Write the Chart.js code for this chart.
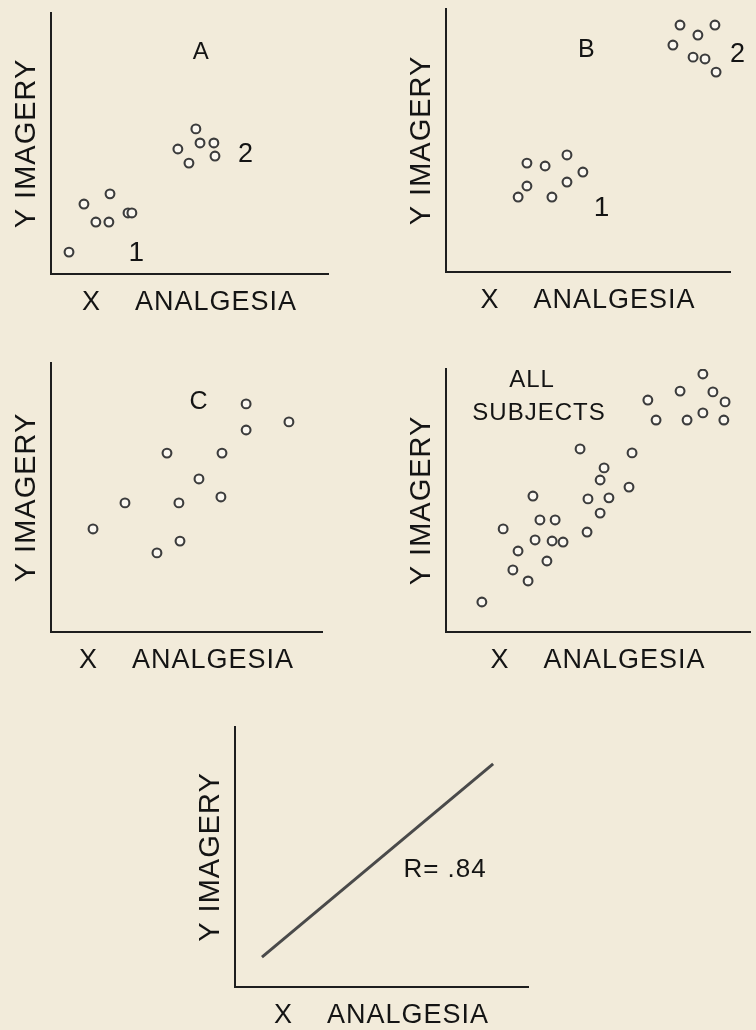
<!DOCTYPE html>
<html>
<head>
<meta charset="utf-8">
<script src="https://cdn.jsdelivr.net/npm/chart.js@4.4.1/dist/chart.umd.min.js"></script>
<style>
  html, body { margin: 0; padding: 0; background: #f2ebda; }
  body { width: 756px; height: 1030px; position: relative; overflow: hidden; }
  .panel { position: absolute; }
  canvas { display: block; }
</style>
</head>
<body>
<div class="panel" id="wrapA"><canvas id="chartA"></canvas></div>
<div class="panel" id="wrapB"><canvas id="chartB"></canvas></div>
<div class="panel" id="wrapC"><canvas id="chartC"></canvas></div>
<div class="panel" id="wrapD"><canvas id="chartD"></canvas></div>
<div class="panel" id="wrapE"><canvas id="chartE"></canvas></div>
<script>
// ---------- DATA (0–100 units on each panel's X = analgesia, Y = imagery) ----------
const xTitle = 'X    ANALGESIA';
const yTitle = 'Y IMAGERY';

// Panel A
const aGroup1X = [6.5, 11.9, 16.2, 20.9, 21.3, 27.8, 29.2];
const aGroup1Y = [8.4, 26.8, 19.9, 19.9, 30.7, 23.4, 23.4];
const aGroup2X = [45.8, 49.8, 52.3, 53.8, 58.8, 59.2];
const aGroup2Y = [47.9, 42.5, 55.6, 50.2, 50.2, 45.2];
const aNoteText = ['A', '2', '1'];
const aNoteX = [54.2, 70.4, 31.0];
const aNoteY = [85.1, 45.6, 8.0];

// Panel B
const bGroup1X = [28.5, 34.9, 42.6, 48.2, 42.6, 28.5, 25.4, 37.3];
const bGroup1Y = [41.4, 40.3, 44.5, 38.0, 34.2, 32.7, 28.5, 28.5];
const bGroup2X = [82.4, 94.7, 88.7, 79.9, 87.0, 91.2, 95.1];
const bGroup2Y = [93.9, 93.9, 90.1, 86.3, 81.7, 81.0, 76.0];
const bNoteText = ['B', '2', '1'];
const bNoteX = [49.6, 102.8, 54.9];
const bNoteY = [84.4, 82.5, 24.3];

// Panel C
const cX = [15.5, 27.3, 39.1, 47.6, 47.2, 42.8, 54.6, 62.7, 63.1, 72.0, 72.0, 87.8];
const cY = [38.3, 48.0, 29.4, 33.8, 48.0, 66.5, 56.9, 50.2, 66.5, 84.8, 75.1, 78.1];
const cNoteText = ['C'];
const cNoteX = [54.6];
const cNoteY = [85.5];

// Panel D (all subjects)
const allX = [11.8, 22.0, 27.0, 23.7, 33.2, 18.8, 28.6, 29.3, 30.9, 35.9, 34.9, 38.5, 46.4, 46.7, 50.7,
              53.6, 50.7, 52.0, 60.2, 44.1, 61.2, 66.4, 69.1, 77.0, 84.5, 87.8, 91.8, 79.3, 84.5, 91.4];
const allY = [11.4, 23.6, 19.4, 30.8, 27.0, 39.2, 51.7, 35.0, 42.6, 42.6, 34.6, 34.2, 38.0, 50.6, 45.2,
              51.0, 57.8, 62.4, 55.1, 69.6, 68.1, 88.2, 80.6, 91.6, 98.1, 91.3, 87.5, 80.6, 83.3, 80.6];
const dNoteText = ['ALL', 'SUBJECTS'];
const dNoteX = [28.3, 30.6];
const dNoteY = [95.8, 83.3];

// Panel E (regression line)
const fitX = [9.2, 88.1];
const fitY = [11.5, 85.8];
const eNoteText = ['R= .84'];
const eNoteX = [71.7];
const eNoteY = [45.0];

// ---------- STYLE ----------
const FONT = '"Liberation Sans", Arial, sans-serif';
const TEXT = '#141414';
const AXIS = '#1e1e1e';
const PT_EDGE = '#3c3c3c';
const PT_FILL = '#fbf8f1';

const Y_SCALE_W = 43;  // 29 line + 4.5 + 9.5
const X_SCALE_H = 47;  // 27 line + 15.5 + 4.5
const PAD = { left: 0, top: 10, right: 32, bottom: 0 };

const notesPlugin = {
  id: 'notes',
  beforeDraw(chart) { chart.ctx.letterSpacing = '1px'; },
  afterDatasetsDraw(chart, args, opts) {
    if (!opts || !opts.text) return;
    const { ctx, scales: { x, y } } = chart;
    ctx.save();
    ctx.letterSpacing = '1px';
    ctx.fillStyle = TEXT;
    ctx.textAlign = 'center';
    ctx.textBaseline = 'middle';
    opts.text.forEach((t, i) => {
      ctx.font = `${opts.size[i]}px ${FONT}`;
      ctx.fillText(t, x.getPixelForValue(opts.x[i]), y.getPixelForValue(opts.y[i]));
    });
    ctx.restore();
  }
};

function pts(xs, ys) { return xs.map((v, i) => ({ x: v, y: ys[i] })); }

function scatterSet(xs, ys) {
  return {
    data: pts(xs, ys),
    pointStyle: 'circle',
    pointRadius: 4.4,
    pointBorderWidth: 2.1,
    pointBorderColor: PT_EDGE,
    pointBackgroundColor: PT_FILL,
    showLine: false
  };
}

function axis(title, size, padding) {
  return {
    type: 'linear', min: 0, max: 100,
    ticks: { display: false },
    grid: { display: false, drawTicks: false, tickLength: 0 },
    border: { display: true, color: AXIS, width: 2 },
    title: { display: true, text: title, color: TEXT,
             font: { family: FONT, size: size, lineHeight: 1 }, padding: padding }
  };
}

function makePanel(id, box, datasets, notes) {
  const wrap = document.getElementById('wrap' + id);
  const canvas = document.getElementById('chart' + id);
  const w = (box.R - box.L) + Y_SCALE_W + PAD.left + PAD.right;
  const h = (box.B - box.T) + X_SCALE_H + PAD.top + PAD.bottom;
  wrap.style.left = (box.L - Y_SCALE_W - PAD.left) + 'px';
  wrap.style.top = (box.T - PAD.top) + 'px';
  canvas.width = w; canvas.height = h;
  canvas.style.width = w + 'px'; canvas.style.height = h + 'px';
  new Chart(canvas, {
    type: 'scatter',
    data: { datasets },
    options: {
      responsive: false,
      animation: false,
      devicePixelRatio: 1,
      layout: { padding: PAD, autoPadding: false },
      plugins: { legend: { display: false }, tooltip: { enabled: false }, notes },
      scales: {
        x: axis(xTitle, 27, { top: 15.5, bottom: 4.5 }),
        y: axis(yTitle, 29, { top: 4.5, bottom: 9.5 })
      }
    },
    plugins: [notesPlugin]
  });
}

makePanel('A', { L: 51, T: 13, R: 328, B: 274 },
  [scatterSet(aGroup1X, aGroup1Y), scatterSet(aGroup2X, aGroup2Y)],
  { text: aNoteText, x: aNoteX, y: aNoteY, size: [24, 27, 28] });

makePanel('B', { L: 446, T: 9, R: 730, B: 272 },
  [scatterSet(bGroup1X, bGroup1Y), scatterSet(bGroup2X, bGroup2Y)],
  { text: bNoteText, x: bNoteX, y: bNoteY, size: [25, 27, 28] });

makePanel('C', { L: 51, T: 363, R: 322, B: 632 },
  [scatterSet(cX, cY)],
  { text: cNoteText, x: cNoteX, y: cNoteY, size: [25] });

makePanel('D', { L: 446, T: 369, R: 750, B: 632 },
  [scatterSet(allX, allY)],
  { text: dNoteText, x: dNoteX, y: dNoteY, size: [24, 24] });

makePanel('E', { L: 235, T: 727, R: 528, B: 987 },
  [{
    data: pts(fitX, fitY),
    showLine: true,
    borderColor: '#4a4a4a',
    borderWidth: 3,
    pointRadius: 0,
    fill: false
  }],
  { text: eNoteText, x: eNoteX, y: eNoteY, size: [26] });
</script>
</body>
</html>
